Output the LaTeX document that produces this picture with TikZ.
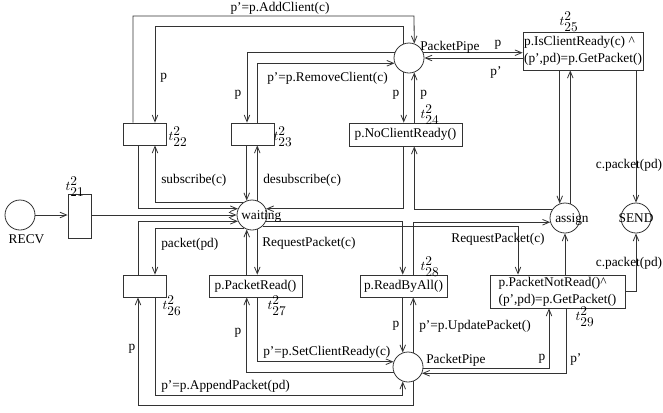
\documentclass[tikz,border=0pt]{standalone}
\usepackage{fontspec}
\setmainfont{Liberation Serif}
\usetikzlibrary{arrows.meta,calc}
\newcommand{\tname}[1]{$t^{\textstyle 2}_{\textstyle #1}$}
\begin{document}
\begin{tikzpicture}[x=0.75pt,y=-0.75pt,
  every node/.style={font=\fontsize{10}{12.75}\selectfont},
  place/.style={draw=black!80, line width=0.6pt, circle, minimum size=30*0.75pt, inner sep=0pt},
  tbox/.style={draw=black!80, line width=0.6pt, rectangle, inner sep=0pt, align=left},
  flow/.style={draw=black!80, line width=0.6pt, -{Straight Barb[length=5pt,width=4.2pt]}},
  lbl/.style={inner sep=0pt},
  tlab/.style={inner sep=0pt, font=\fontsize{10}{12}\selectfont},
]
\useasboundingbox (0,0) rectangle (663,412);

% places
\node[place] (recv) at (20,215) {};
\node[place] (wait) at (252,215) {};
\node[place] (pp1) at (409,58) {};
\node[place] (pp2) at (408,367) {};
\node[place] (asg) at (565,218) {};
\node[place] (send) at (636,218) {};

% transitions
\node[tbox, minimum width=23*0.75pt, minimum height=44*0.75pt] (t21) at (79.5,216) {};
\node[tbox, minimum width=43*0.75pt, minimum height=22*0.75pt] (t22) at (144.5,134) {};
\node[tbox, minimum width=43*0.75pt, minimum height=22*0.75pt] (t23) at (252.5,134) {};
\node[tbox, minimum width=113*0.75pt, minimum height=23*0.75pt] (t24) at (405.5,134.5) {p.NoClientReady()};
\node[tbox, minimum width=120*0.75pt, minimum height=38*0.75pt] (t25) at (583,51) {p.IsClientReady(c) \textasciicircum\\(p',pd)=p.GetPacket()};
\node[tbox, minimum width=43*0.75pt, minimum height=22*0.75pt] (t26) at (144.5,286) {};
\node[tbox, minimum width=93*0.75pt, minimum height=22*0.75pt] (t27) at (255.5,286) {p.PacketRead()};
\node[tbox, minimum width=87*0.75pt, minimum height=22*0.75pt] (t28) at (403.5,286) {p.ReadByAll()};
\node[tbox, minimum width=135*0.75pt, minimum height=33*0.75pt] (t29) at (557.5,291.5) {p.PacketNotRead()\textasciicircum\\(p',pd)=p.GetPacket()};

% arcs
\draw[flow] (recv.east) -- (recv.east -| t21.west);
\draw[flow] (t21.east |- wait) -- (wait.west);
\draw[flow] ($(t22.south)+(-6.5,0)$) |- (wait.156);
\draw[flow] (wait.127) -| ($(t22.south)+(10.5,0)$);
\draw[flow] ($(t22.north)+(-11.5,0)$) |- (414,16) -- (pp1.70);
\draw[flow] (pp1.110) -- ++(0,-17) -| ($(t22.north)+(10.5,0)$);
\draw[flow] (pp1.160) -| ($(t23.north)+(-5.5,0)$);
\draw[flow] ($(t23.north)+(4.5,0)$) |- (pp1.200);
\draw[flow] (wait.70) -- (wait.70 |- t23.south);
\draw[flow] (wait.110 |- t23.south) -- (wait.110);
\draw[flow] (pp1.250) -- (pp1.250 |- t24.north);
\draw[flow] (pp1.290 |- t24.north) -- (pp1.290);
\draw[flow] (pp1.20) -- (pp1.20 -| t25.west);
\draw[flow] (pp1.0 -| t25.west) -- (pp1.0);
\draw[flow] (pp1.250 |- t24.south) |- (wait.24);
\draw[flow] (asg.148) -| (pp1.290 |- t24.south);
\draw[flow] (asg.110 |- t25.south) -- (asg.110);
\draw[flow] (asg.70) -- (asg.70 |- t25.south);
\draw[flow] (send.north |- t25.south) -- (send.north);
\draw[flow] (wait.334) -| (pp2.110 |- t28.north);
\draw[flow] (pp2.70 |- t28.north) |- (asg.196);
\draw[flow] (pp2.110 |- t28.south) -- (pp2.110);
\draw[flow] (pp2.70) -- (pp2.70 |- t28.south);
\draw[flow] (wait.313) -| ($(t29.north)+(-39.5,0)$);
\draw[flow] (asg.south |- t29.north) -- (asg.south);
\draw[flow] (t29.east) -| (send.south);
\draw[flow] (pp2.356) -| ($(t29.south)+(-8.5,0)$);
\draw[flow] ($(t29.south)+(8.5,0)$) |- (pp2.336);
\draw[flow] (wait.290) -- (wait.290 |- t27.north);
\draw[flow] (wait.250 |- t27.north) -- (wait.250);
\draw[flow] (pp2.200) -| (wait.250 |- t27.south);
\draw[flow] (wait.290 |- t27.south) |- (pp2.160);
\draw[flow] (wait.240) -| ($(t26.north)+(10.5,0)$);
\draw[flow] ($(t26.north)+(-6.5,0)$) |- (wait.204);
\draw[flow] (pp2.290) -- ++(0,24) -| ($(t26.south)+(-6.5,0)$);
\draw[flow] ($(t26.south)+(10.5,0)$) -- ++(0,98) -| (pp2.250);

% place names
\node[lbl, anchor=base] (recvT) at (26.5,243.5) {RECV};
\node[lbl, anchor=base west] (waitT) at (241,219) {waiting};
\node[lbl, anchor=base west] (pp1T) at (420,50) {PacketPipe};
\node[lbl, anchor=base west] (pp2T) at (426,363) {PacketPipe};
\node[lbl, anchor=base west] (asgT) at (555,222) {assign};
\node[lbl, anchor=base] (sendT) at (636,222.5) {SEND};

% transition names
\node[tlab] (l21) at (75,187) {\tname{21}};
\node[tlab] (l22) at (178,137) {\tname{22}};
\node[tlab] (l23) at (283,137) {\tname{23}};
\node[tlab] (l24) at (430,115) {\tname{24}};
\node[tlab] (l25) at (569,22) {\tname{25}};
\node[tlab] (l26) at (172,306) {\tname{26}};
\node[tlab] (l27) at (277,306) {\tname{27}};
\node[tlab] (l28) at (430,267) {\tname{28}};
\node[tlab] (l29) at (585,317) {\tname{29}};

% arc inscriptions
\node[lbl] (eAdd) at (280,8) {p'=p.AddClient(c)};
\node[lbl, anchor=west] (ep22) at (160,78) {p};
\node[lbl] (ep23) at (238,95) {p};
\node[lbl, anchor=west] (eRem) at (267,78) {p'=p.RemoveClient(c)};
\node[lbl] (ep24a) at (396,95) {p};
\node[lbl, anchor=west] (ep24b) at (420,95) {p};
\node[lbl] (ep25a) at (498,45) {p};
\node[lbl] (ep25b) at (496,72) {p'};
\node[lbl, anchor=west] (esub) at (161,180) {subscribe(c)};
\node[lbl, anchor=west] (edes) at (263,180) {desubscribe(c)};
\node[lbl] (epk1) at (629,165) {c.packet(pd)};
\node[lbl, anchor=west] (epkt) at (161,244) {packet(pd)};
\node[lbl, anchor=west] (erq1) at (262,243) {RequestPacket(c)};
\node[lbl] (erq2) at (498,239) {RequestPacket(c)};
\node[lbl] (epk2) at (629,263) {c.packet(pd)};
\node[lbl] (ep28) at (396,326) {p};
\node[lbl, anchor=west] (eupd) at (419,326) {p'=p.UpdatePacket()};
\node[lbl] (ep27) at (238,333) {p};
\node[lbl] (ep26) at (132,349) {p};
\node[lbl, anchor=west] (eset) at (263,352) {p'=p.SetClientReady(c)};
\node[lbl] (ep29a) at (542,359) {p};
\node[lbl, anchor=west] (ep29b) at (570,359) {p'};
\node[lbl, anchor=west] (eapp) at (161,386) {p'=p.AppendPacket(pd)};
\end{tikzpicture}
\end{document}
